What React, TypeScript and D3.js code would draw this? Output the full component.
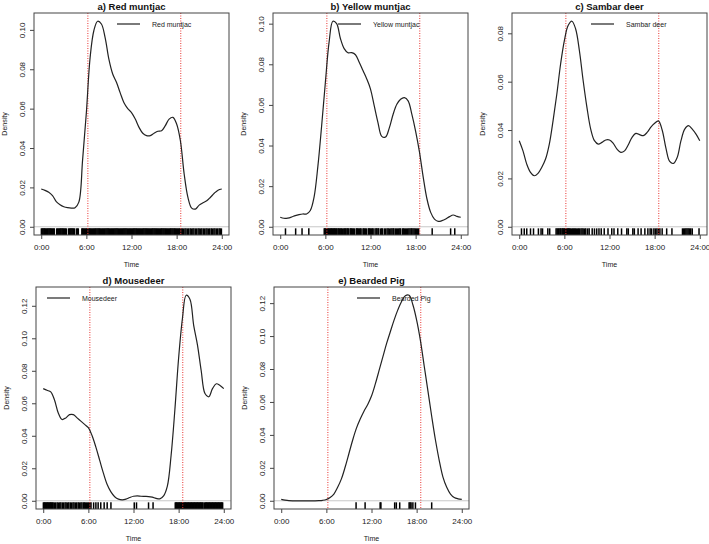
import React, { useRef, useEffect } from 'react';
import * as d3 from 'd3';

// Kernel density of activity, sampled every half hour (0:00 .. 24:00)
const hours = [
  0, 0.5, 1, 1.5, 2, 2.5, 3, 3.5, 4, 4.5, 5, 5.5, 6, 6.5, 7, 7.5, 8, 8.5, 9, 9.5, 10, 10.5, 11, 11.5,
  12, 12.5, 13, 13.5, 14, 14.5, 15, 15.5, 16, 16.5, 17, 17.5, 18, 18.5, 19, 19.5, 20, 20.5, 21, 21.5,
  22, 22.5, 23, 23.5, 24,
];

const redMuntjacDensity = [
  0.0192, 0.0185, 0.0175, 0.0158, 0.0128, 0.0112, 0.0102, 0.0097, 0.0095, 0.0097, 0.0125, 0.034,
  0.058, 0.086, 0.0997, 0.1044, 0.103, 0.096, 0.085, 0.0776, 0.0734, 0.068, 0.063, 0.06, 0.058,
  0.0547, 0.0505, 0.0475, 0.0463, 0.0463, 0.0475, 0.0485, 0.0488, 0.0514, 0.0547, 0.0556, 0.0522,
  0.0437, 0.0268, 0.0149, 0.0095, 0.009, 0.011, 0.0122, 0.0132, 0.015, 0.017, 0.0186, 0.0192,
];

const yellowMuntjacDensity = [
  0.0047, 0.0042, 0.0043, 0.0048, 0.0055, 0.006, 0.0063, 0.0063, 0.008, 0.0146, 0.0296, 0.0495,
  0.071, 0.091, 0.1012, 0.1, 0.0927, 0.0877, 0.0857, 0.0857, 0.0847, 0.081, 0.0769, 0.0728, 0.0678,
  0.0595, 0.0512, 0.0445, 0.0442, 0.0487, 0.0553, 0.0603, 0.0628, 0.0636, 0.062, 0.0553, 0.047,
  0.037, 0.0246, 0.0138, 0.0071, 0.0038, 0.0027, 0.003, 0.0038, 0.005, 0.0058, 0.0051, 0.0047,
];

const sambarDensity = [
  0.0356, 0.0314, 0.0259, 0.0225, 0.0211, 0.0221, 0.0246, 0.028, 0.0342, 0.0439, 0.0549, 0.0673,
  0.077, 0.0832, 0.085, 0.0818, 0.0728, 0.0604, 0.0494, 0.0404, 0.0356, 0.0342, 0.0349, 0.0359,
  0.0359, 0.0345, 0.0321, 0.0308, 0.0314, 0.0339, 0.037, 0.0386, 0.0381, 0.0377, 0.039, 0.0412,
  0.0428, 0.0438, 0.04, 0.0325, 0.027, 0.0262, 0.0287, 0.0356, 0.0404, 0.0418, 0.0404, 0.0383,
  0.0356,
];

const mousedeerDensity = [
  0.069, 0.068, 0.067, 0.062, 0.054, 0.05, 0.051, 0.053, 0.053, 0.051, 0.049, 0.047, 0.045, 0.04,
  0.033, 0.025, 0.017, 0.01, 0.0055, 0.0025, 0.001, 0.0006, 0.001, 0.002, 0.0028, 0.003, 0.0028,
  0.0027, 0.0026, 0.0022, 0.0015, 0.0012, 0.003, 0.009, 0.028, 0.056, 0.088, 0.112, 0.1265, 0.124,
  0.108, 0.096, 0.08, 0.066, 0.064, 0.069, 0.072, 0.071, 0.069,
];

const beardedPigDensity = [
  0.0008, 0.0004, 0.0001, 0, 0, 0, 0, 0, 0, 0, 0.0001, 0.0003, 0.0008, 0.002, 0.0041, 0.0082,
  0.0133, 0.0205, 0.0287, 0.0369, 0.0441, 0.0496, 0.0544, 0.0585, 0.0636, 0.0708, 0.079, 0.0872,
  0.0954, 0.1026, 0.1097, 0.1159, 0.121, 0.1245, 0.1248, 0.119, 0.1097, 0.0974, 0.082, 0.0667,
  0.0513, 0.0369, 0.0246, 0.0144, 0.0082, 0.0041, 0.002, 0.0012, 0.0008,
];

// Detection times (decimal hours) shown as the rug
const redMuntjacRug = [
  0.02, 0.13, 0.25, 0.36, 0.47, 0.58, 0.7, 0.81, 0.92, 1.04, 1.15, 1.27, 1.38, 1.5, 1.62, 1.73,
  2.05, 2.16, 2.28, 2.4, 2.52, 2.63, 2.75, 2.87, 2.98, 3.1, 3.22, 3.33, 3.62, 3.74, 3.85, 3.97,
  4.08, 4.2, 4.32, 4.43, 4.7, 4.82, 4.93, 5.4, 5.52, 5.63, 5.75, 5.87, 5.99, 6.1, 6.22, 6.35, 6.46,
  6.58, 6.7, 6.83, 6.95, 7.06, 7.18, 7.3, 7.43, 7.55, 7.66, 7.78, 7.9, 8.03, 8.15, 8.26, 8.38, 8.5,
  8.63, 8.75, 8.86, 8.98, 9.1, 9.23, 9.35, 9.46, 9.58, 9.7, 9.83, 9.95, 10.06, 10.18, 10.3, 10.43,
  10.55, 10.66, 10.78, 10.9, 11.03, 11.15, 11.26, 11.38, 11.5, 11.63, 11.75, 11.86, 11.98, 12.1,
  12.23, 12.35, 12.46, 12.58, 12.7, 12.83, 12.95, 13.06, 13.18, 13.3, 13.43, 13.55, 13.66, 13.78,
  13.9, 14.03, 14.15, 14.26, 14.38, 14.5, 14.63, 14.75, 14.86, 14.98, 15.1, 15.23, 15.35, 15.46,
  15.58, 15.7, 15.83, 15.95, 16.06, 16.18, 16.3, 16.43, 16.55, 16.66, 16.78, 16.9, 17.03, 17.15,
  17.26, 17.38, 17.5, 17.63, 17.75, 17.86, 17.98, 18.1, 18.23, 18.35, 18.46, 18.6, 18.75, 18.9,
  19.1, 19.25, 19.45, 19.6, 19.8, 19.95, 20.15, 20.3, 20.5, 20.65, 20.85, 21.0, 21.2, 21.35, 21.55,
  21.7, 21.9, 22.05, 22.25, 22.4, 22.6, 22.75, 22.95, 23.1, 23.3, 23.45, 23.65, 23.8, 23.95,
];

const yellowMuntjacRug = [
  0.7, 2.05, 2.9, 3.8, 5.85, 5.95, 6.05, 6.15, 6.25, 6.35, 6.45, 6.55, 6.65, 6.75, 6.85, 6.95,
  7.05, 7.15, 7.25, 7.35, 7.45, 7.55, 7.7, 7.8, 7.9, 8.05, 8.15, 8.25, 8.45, 8.55, 8.65, 8.75, 8.9,
  9.0, 9.1, 9.3, 9.4, 9.5, 9.6, 9.75, 9.85, 10.1, 10.2, 10.3, 10.4, 10.55, 10.65, 10.75, 11.0, 11.1,
  11.2, 11.35, 11.45, 11.7, 11.8, 11.9, 12.0, 12.15, 12.25, 12.35, 12.6, 12.75, 12.85, 13.0, 13.1,
  13.35, 13.5, 13.6, 13.85, 14.0, 14.2, 14.35, 14.5, 14.7, 14.85, 15.0, 15.1, 15.3, 15.45, 15.6,
  15.75, 15.9, 16.0, 16.25, 16.35, 16.5, 16.65, 16.8, 16.95, 17.1, 17.25, 17.4, 17.5, 17.65, 17.8,
  17.95, 18.1, 18.25, 18.4, 20.2, 22.65, 23.2,
];

const sambarRug = [
  0.3, 0.67, 1.0, 1.5, 1.9, 2.55, 2.9, 3.1, 3.8, 4.05, 4.9, 5.05, 5.2, 5.3, 5.45, 5.55, 5.7, 5.8,
  5.9, 6.0, 6.1, 6.2, 6.3, 6.4, 6.5, 6.6, 6.7, 6.8, 6.95, 7.1, 7.2, 7.35, 7.45, 7.6, 7.75, 7.9, 8.0,
  8.2, 8.35, 8.5, 8.7, 8.85, 9.1, 9.3, 9.7, 10.0, 10.3, 10.6, 10.9, 11.3, 11.8, 12.3, 12.6, 13.1,
  13.6, 14.3, 14.5, 15.1, 15.3, 15.8, 16.2, 16.7, 17.1, 17.4, 17.6, 17.9, 18.1, 18.3, 18.5, 18.7,
  19.0, 19.6, 20.3, 21.7, 21.85, 22.0, 22.15, 22.3, 22.45, 22.6, 22.8, 23.0, 23.9,
];

const mousedeerRug = [
  0.02, 0.12, 0.22, 0.32, 0.42, 0.52, 0.62, 0.72, 0.82, 0.92, 1.02, 1.12, 1.22, 1.32, 1.5, 1.65,
  1.85, 2.0, 2.2, 2.35, 2.55, 2.7, 2.9, 3.05, 3.25, 3.4, 3.6, 3.75, 3.95, 4.1, 4.3, 4.45, 4.65, 4.8,
  5.0, 5.15, 5.35, 5.45, 5.6, 5.75, 5.9, 6.05, 6.2, 6.35, 6.7, 7.0, 7.3, 7.65, 8.1, 8.5, 9.0, 12.1,
  12.4, 14.0, 14.6, 17.55, 17.65, 17.75, 17.85, 17.95, 18.05, 18.15, 18.25, 18.35, 18.45, 18.55,
  18.65, 18.75, 18.85, 18.95, 19.05, 19.15, 19.25, 19.35, 19.45, 19.55, 19.65, 19.75, 19.85, 19.95,
  20.05, 20.15, 20.25, 20.35, 20.45, 20.55, 20.65, 20.75, 20.85, 20.95, 21.05, 21.15, 21.25, 21.45,
  21.55, 21.65, 21.75, 21.85, 21.95, 22.05, 22.15, 22.25, 22.35, 22.45, 22.55, 22.65, 22.75, 22.85,
  22.95, 23.05, 23.15, 23.25, 23.35, 23.45, 23.55, 23.65, 23.75, 23.85,
];

const beardedPigRug = [9.95, 11.15, 13.15, 13.25, 15.08, 15.3, 15.75, 17.0, 17.13, 17.26, 17.5, 17.84, 20.0];

const xTicks = [0, 6, 12, 18, 24];
const xTickLabels = ['0:00', '6:00', '12:00', '18:00', '24:00'];
const sunrise = 6.2;
const sunset = 18.55;

const panels = [
  { title: 'a) Red muntjac', label: 'Red muntjac', density: redMuntjacDensity, rug: redMuntjacRug },
  { title: 'b) Yellow muntjac', label: 'Yellow muntjac', density: yellowMuntjacDensity, rug: yellowMuntjacRug },
  { title: 'c) Sambar deer', label: 'Sambar deer', density: sambarDensity, rug: sambarRug },
  { title: 'd) Mousedeer', label: 'Mousedeer', density: mousedeerDensity, rug: mousedeerRug },
  { title: 'e) Bearded Pig', label: 'Bearded Pig', density: beardedPigDensity, rug: beardedPigRug },
];

// plot box placement and legend offset for each panel
const boxes = [
  { left: 34, top: 13, legendX: 83 },
  { left: 273, top: 13, legendX: 65 },
  { left: 512, top: 13, legendX: 79 },
  { left: 36, top: 287, legendX: 11 },
  { left: 274, top: 287, legendX: 83 },
];

const W = 195;
const H = 222;
const FONT = '"Liberation Sans", Arial, sans-serif';

const App = () => {
  const svgRef = useRef();

  useEffect(() => {
    const svg = d3.select(svgRef.current);
    svg.selectAll('*').remove();

    panels.forEach((p, i) => {
      const box = boxes[i];
      const g = svg.append('g').attr('transform', `translate(${box.left},${box.top})`);

      // R-style 4% padding on both axes
      const x = d3.scaleLinear().domain([-0.96, 24.96]).range([0, W]);
      const ymax = d3.max(p.density);
      const y = d3.scaleLinear().domain([-0.04 * ymax, 1.04 * ymax]).range([H, 0]);

      // zero line
      g.append('line')
        .attr('x1', 0).attr('x2', W)
        .attr('y1', y(0)).attr('y2', y(0))
        .attr('stroke', '#c8c8c8');

      // rug of detections
      g.selectAll('line.rug')
        .data(p.rug)
        .join('line')
        .attr('class', 'rug')
        .attr('x1', d => x(d)).attr('x2', d => x(d))
        .attr('y1', H).attr('y2', H - 0.03 * H)
        .attr('stroke', '#000')
        .attr('stroke-width', 1.5);

      // sunrise / sunset
      g.selectAll('line.sun')
        .data([sunrise, sunset])
        .join('line')
        .attr('class', 'sun')
        .attr('x1', d => x(d)).attr('x2', d => x(d))
        .attr('y1', 0).attr('y2', H)
        .attr('stroke', '#e8332f')
        .attr('stroke-width', 1)
        .attr('stroke-dasharray', '1,1.5');

      const line = d3.line()
        .x((d, j) => x(hours[j]))
        .y(d => y(d))
        .curve(d3.curveCatmullRom.alpha(0.5));

      g.append('path')
        .datum(p.density)
        .attr('fill', 'none')
        .attr('stroke', '#222')
        .attr('stroke-width', 1.2)
        .attr('d', line);

      // frame
      g.append('rect')
        .attr('width', W).attr('height', H)
        .attr('fill', 'none')
        .attr('stroke', '#444')
        .attr('stroke-width', 1);

      // x axis
      const xAxis = g.append('g')
        .attr('transform', `translate(0,${H})`)
        .call(d3.axisBottom(x).tickValues(xTicks).tickFormat((d, j) => xTickLabels[j]).tickSize(4).tickSizeOuter(0).tickPadding(4));
      xAxis.select('.domain').remove();
      xAxis.selectAll('line').attr('stroke', '#444');
      xAxis.selectAll('text')
        .attr('font-family', FONT)
        .attr('font-size', 8)
        .attr('fill', '#222')
        .attr('dy', 0)
        .attr('y', 15);

      // y axis with rotated labels
      const yAxis = g.append('g')
        .call(d3.axisLeft(y).ticks(5).tickFormat(d3.format('.2f')).tickSize(4).tickSizeOuter(0));
      yAxis.select('.domain').remove();
      yAxis.selectAll('line').attr('stroke', '#444');
      yAxis.selectAll('text')
        .attr('font-family', FONT)
        .attr('font-size', 8)
        .attr('fill', '#222')
        .attr('transform', 'rotate(-90)')
        .attr('x', 0)
        .attr('y', -9)
        .attr('dy', 0)
        .attr('text-anchor', 'middle');

      // titles and axis names
      g.append('text')
        .attr('x', W / 2).attr('y', -3)
        .attr('text-anchor', 'middle')
        .attr('font-family', FONT)
        .attr('font-size', 9.5)
        .attr('font-weight', 'bold')
        .attr('fill', '#111')
        .text(p.title);

      g.append('text')
        .attr('x', W / 2).attr('y', H + 32)
        .attr('text-anchor', 'middle')
        .attr('font-family', FONT)
        .attr('font-size', 7)
        .attr('fill', '#222')
        .text('Time');

      g.append('text')
        .attr('transform', `translate(-27.5,${H / 2}) rotate(-90)`)
        .attr('text-anchor', 'middle')
        .attr('font-family', FONT)
        .attr('font-size', 7)
        .attr('fill', '#222')
        .text('Density');

      // legend
      const lg = g.append('g').attr('transform', `translate(${box.legendX},11)`);
      lg.append('line')
        .attr('x1', 0).attr('x2', 23)
        .attr('stroke', '#222')
        .attr('stroke-width', 1.2);
      lg.append('text')
        .attr('x', 35).attr('y', 2.5)
        .attr('font-family', FONT)
        .attr('font-size', 7)
        .attr('fill', '#222')
        .text(p.label);
    });
  }, []);

  return (
    <svg
      ref={svgRef}
      width={709}
      height={544}
      style={{ position: 'absolute', left: 0, top: 0, background: '#fff' }}
    />
  );
};

export default App;
